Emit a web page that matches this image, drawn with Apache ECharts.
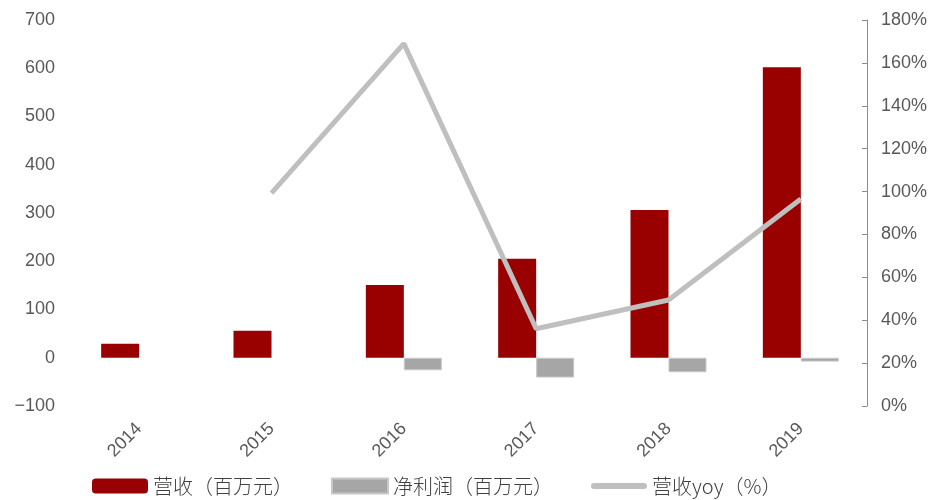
<!DOCTYPE html>
<html><head><meta charset="utf-8">
<script src="https://cdn.jsdelivr.net/npm/echarts@6/dist/echarts.min.js"></script>
<style>html,body{margin:0;padding:0;background:#fff}#c{width:936px;height:500px}</style>
</head><body><div id="c"></div>
<script>
const categories = ['2014','2015','2016','2017','2018','2019'];
const revenue = [29, 56, 151, 205, 306, 602];
const netProfit = [null, null, -26, -41, -30, -8];
const revenueYoy = [null, 99.3, 169, 36, 49.4, 96.5];
const leftTicks = {min: -100, max: 700, interval: 100};
const rightTicks = {min: 0, max: 180, interval: 20};

const cjk = '"Noto Sans CJK SC", sans-serif';
const num = '"Liberation Sans", Arial, sans-serif';
const chart = echarts.init(document.getElementById('c'), null, {renderer: 'canvas'});
chart.setOption({
  animation: false,
  grid: {left: 73, right: 69, top: 20, bottom: 94, containLabel: false},
  legend: {
    top: 474, left: 92, padding: 0, itemGap: 38,
    itemWidth: 56, itemHeight: 15,
    textStyle: {fontFamily: cjk, fontSize: 20, color: '#404040', fontWeight: 300, lineHeight: 24},
    data: [
      {name: '营收（百万元）', icon: 'roundRect'},
      {name: '净利润（百万元）', icon: 'rect'},
      {name: '营收yoy（%）', icon: 'path://M3,0 L55,0 A3,3 0 0 1 55,6 L3,6 A3,3 0 0 1 3,0 Z',
        itemStyle: {color: '#bfbfbf', borderWidth: 0}, lineStyle: {opacity: 0, width: 0}}
    ]
  },
  xAxis: {
    type: 'category', data: categories,
    axisLine: {show: false}, axisTick: {show: false},
    axisLabel: {rotate: 45, margin: 20, color: '#595959', fontSize: 18, fontFamily: num}
  },
  yAxis: [
    {
      type: 'value', min: leftTicks.min, max: leftTicks.max, interval: leftTicks.interval,
      axisLine: {show: false}, axisTick: {show: false}, splitLine: {show: false},
      axisLabel: {margin: 18, color: '#595959', fontSize: 18, fontFamily: num,
        formatter: v => v < 0 ? '\u2212' + Math.abs(v) : String(v)}
    },
    {
      type: 'value', min: rightTicks.min, max: rightTicks.max, interval: rightTicks.interval, position: 'right',
      axisLine: {show: true, lineStyle: {color: '#8c8c8c', width: 1}},
      axisTick: {show: true, inside: true, length: 5, lineStyle: {color: '#8c8c8c'}},
      splitLine: {show: false},
      axisLabel: {margin: 14, color: '#595959', fontSize: 18, fontFamily: num, formatter: '{value}%'}
    }
  ],
  series: [
    {name: '营收（百万元）', type: 'bar', data: revenue, barWidth: 38, barGap: '0%',
      itemStyle: {color: '#990000'}},
    {name: '净利润（百万元）', type: 'bar', data: netProfit, barWidth: 38, barGap: '0%',
      itemStyle: {color: '#a6a6a6', borderColor: '#c8c8c8', borderWidth: 1}},
    {name: '营收yoy（%）', type: 'line', yAxisIndex: 1, data: revenueYoy, showSymbol: false, symbol: 'none',
      lineStyle: {color: '#bfbfbf', width: 5}, itemStyle: {color: '#bfbfbf'}}
  ]
});
</script></body></html>
